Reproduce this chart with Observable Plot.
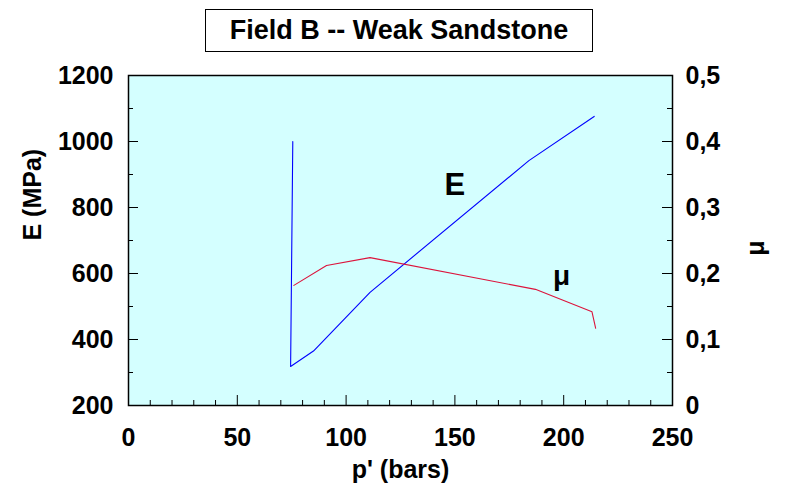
<!DOCTYPE html>
<html>
<head>
<meta charset="utf-8">
<script src="https://cdn.jsdelivr.net/npm/d3@7"></script>
<script src="https://cdn.jsdelivr.net/npm/@observablehq/plot@0.6"></script>
<style>
  body { margin: 0; background: #fff; }
  #wrap { position: relative; width: 785px; height: 492px; font-family: "Liberation Sans", Arial, sans-serif; }
  #wrap svg { position: absolute; left: 0; top: 0; }
  #title {
    position: absolute; left: 205px; top: 9px; width: 386px; height: 41px;
    border: 1.5px solid #000; background: #fff; box-sizing: content-box;
    font-weight: bold; font-size: 27px; line-height: 41px; text-align: center; z-index: 2;
  }
</style>
</head>
<body>
<div id="wrap"><div id="title">Field B -- Weak Sandstone</div></div>
<script>
// Young's modulus E (MPa) against effective pressure p' (bars)
const pressureE = [75.5, 74.5, 85, 111, 184, 214];
const modulusE  = [1000, 318, 365, 543, 942, 1076];

// Poisson's ratio μ against effective pressure p' (bars)
const pressureMu = [76, 91, 111, 187, 213, 214.7];
const poissonMu  = [0.182, 0.212, 0.224, 0.176, 0.142, 0.117];

// Axis ticks
const xMajor  = [0, 50, 100, 150, 200, 250];
const xMinor  = d3.range(0, 251, 10).filter(v => v % 50 !== 0);
const yMajor  = [200, 400, 600, 800, 1000, 1200];
const yMinor  = [300, 500, 700, 900, 1100];
const muMajor = [0, 0.1, 0.2, 0.3, 0.4, 0.5];
const muMinor = [0.05, 0.15, 0.25, 0.35, 0.45];

// μ shares the frame with E: 0 → 200 MPa, 0.5 → 1200 MPa
const muToE = mu => 200 + mu * 2000;
const eToMu = e => (e - 200) / 2000;
const fmtMu = e => { const v = eToMu(e); return Math.abs(v) < 1e-9 ? "0" : v.toFixed(1).replace(".", ","); };

const rowsE  = pressureE.map((p, i) => ({p, E: modulusE[i]}));
const rowsMu = pressureMu.map((p, i) => ({p, mu: poissonMu[i]}));

const W = 785, H = 492, mL = 128, mR = 113, mT = 75, mB = 87;
const plotW = W - mL - mR, plotH = H - mT - mB;
const font = "'Liberation Sans', Arial, sans-serif";

const chart = Plot.plot({
  width: W, height: H,
  marginLeft: mL, marginRight: mR, marginTop: mT, marginBottom: mB,
  x: {domain: [0, 250]},
  y: {domain: [200, 1200]},
  style: {fontFamily: font, fontWeight: "bold", fontSize: "25px", color: "#000", background: "transparent"},
  marks: [
    Plot.frame({fill: "#d4ffff", stroke: null}),
    Plot.line(rowsE, {x: "p", y: "E", stroke: "#0000ff", strokeWidth: 1.1}),
    Plot.line(rowsMu, {x: "p", y: d => muToE(d.mu), stroke: "#dc143c", strokeWidth: 1.1}),

    // inward tick marks
    Plot.tickY(yMajor, {insetRight: plotW - 10, stroke: "#000"}),
    Plot.tickY(yMinor, {insetRight: plotW - 5, stroke: "#000"}),
    Plot.tickY(muMajor.map(muToE), {insetLeft: plotW - 10, stroke: "#000"}),
    Plot.tickY(muMinor.map(muToE), {insetLeft: plotW - 5, stroke: "#000"}),
    Plot.tickX(xMajor, {insetTop: plotH - 10, stroke: "#000"}),
    Plot.tickX(xMinor, {insetTop: plotH - 5, stroke: "#000"}),

    // tick labels
    Plot.axisY(yMajor, {anchor: "left", tickSize: 0, tickPadding: 15, label: null, tickFormat: d => String(d), fontSize: 25}),
    Plot.axisY(muMajor.map(muToE), {anchor: "right", tickSize: 0, tickPadding: 13, label: null, tickFormat: fmtMu, fontSize: 25}),
    Plot.axisX(xMajor, {anchor: "bottom", tickSize: 0, tickPadding: 23, label: null, tickFormat: d => String(d), fontSize: 25}),

    // axis titles
    Plot.text(["E (MPa)"], {frameAnchor: "left", dx: -96, rotate: -90, fontSize: 25, fontWeight: "bold"}),
    Plot.text(["p' (bars)"], {frameAnchor: "bottom", dy: 72, fontSize: 25, fontWeight: "bold"}),
    Plot.text(["μ"], {frameAnchor: "right", dx: 83, rotate: -90, fontSize: 25, fontWeight: "bold"}),

    // curve labels
    Plot.text(["E"], {x: 150, y: 867, fontSize: 31, fontWeight: "bold"}),
    Plot.text(["μ"], {x: 199, y: muToE(0.1955), fontSize: 28, fontWeight: "bold"}),

    Plot.frame({stroke: "#000", strokeWidth: 1.5})
  ]
});

document.getElementById("wrap").appendChild(chart);
</script>
</body>
</html>
